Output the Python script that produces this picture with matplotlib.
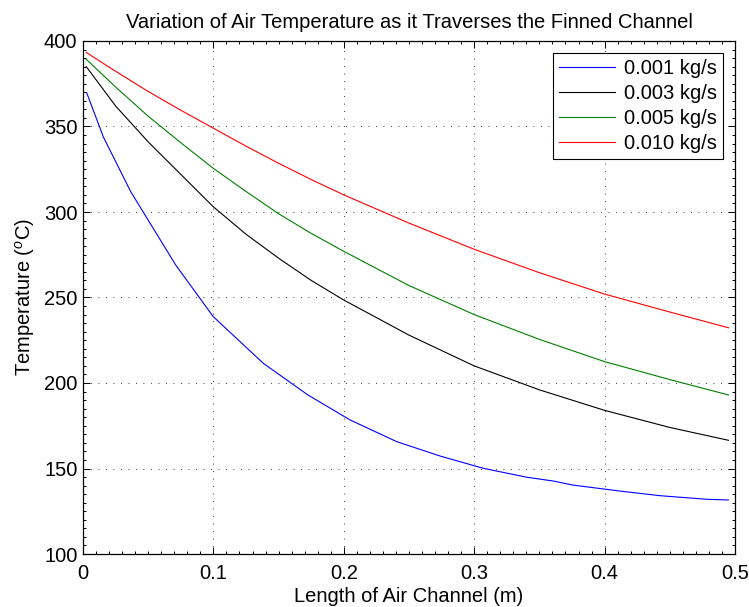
import matplotlib
matplotlib.use("Agg")
import matplotlib.pyplot as plt
from matplotlib.ticker import AutoMinorLocator

plt.rcParams['font.family'] = ['Liberation Sans', 'DejaVu Sans']
plt.rcParams['mathtext.fontset'] = 'custom'
plt.rcParams['mathtext.rm'] = 'Liberation Sans'
plt.rcParams['mathtext.it'] = 'Liberation Sans:italic'

# channel position (m) for the smooth curves
x_len = [0.0025, 0.025, 0.05, 0.075, 0.1, 0.125, 0.15, 0.175, 0.2,
         0.25, 0.3, 0.35, 0.4, 0.45, 0.495]
t_003 = [385, 362, 341, 322, 303, 287, 273, 260, 248.5,
         228, 210, 196, 184, 174, 166.5]
t_005 = [389.3, 373.1, 356, 340.5, 325.5, 312, 299, 287.5, 277,
         257, 240, 225.5, 212.5, 202, 193]
t_010 = [393.3, 382.3, 370.5, 359.5, 349, 338.5, 328.5, 319, 310,
         293.5, 278.2, 264.5, 252, 241.5, 232.3]

# the 0.001 kg/s run is coarser
x_001 = [0.0028, 0.0156, 0.0366, 0.0711, 0.0999, 0.1383, 0.1725, 0.2048, 0.2406,
         0.2738, 0.307, 0.3403, 0.3604, 0.3758, 0.4118, 0.4425, 0.4783, 0.4949]
t_001 = [369.8, 343.9, 311.9, 269, 238.8, 211.5, 193, 178.4, 165.7,
         157.3, 150.1, 144.9, 142.7, 140.3, 136.8, 134.1, 132.0, 131.6]

labels = ['0.001 kg/s', '0.003 kg/s', '0.005 kg/s', '0.010 kg/s']

fs = 14.5

fig = plt.figure(figsize=(7.49, 6.07), dpi=100)
ax = fig.add_axes([83 / 749, 53 / 607, 652 / 749, 513 / 607])

ax.plot(x_001, t_001, color='b', lw=0.8, label=labels[0])
ax.plot(x_len, t_003, color='k', lw=0.8, label=labels[1])
ax.plot(x_len, t_005, color=(0, 0.5, 0), lw=0.8, label=labels[2])
ax.plot(x_len, t_010, color='r', lw=0.8, label=labels[3])

ax.set_xlim(0, 0.5)
ax.set_ylim(100, 400)
ax.set_xticks([0, 0.1, 0.2, 0.3, 0.4, 0.5])
ax.set_xticklabels(['0', '0.1', '0.2', '0.3', '0.4', '0.5'])
ax.set_yticks([100, 150, 200, 250, 300, 350, 400])
ax.xaxis.set_minor_locator(AutoMinorLocator(10))
ax.yaxis.set_minor_locator(AutoMinorLocator(10))
ax.tick_params(which='both', direction='in', top=True, right=True, labelsize=fs, width=0.7)
ax.tick_params(which='major', length=5)
ax.tick_params(which='minor', length=2)
ax.tick_params(axis='x', pad=7)
ax.tick_params(axis='y', pad=4)
for s in ax.spines.values():
    s.set_linewidth(0.9)

ax.grid(True, which='major', color='k', lw=0.6, linestyle=(0, (1, 8)))

ax.set_title('Variation of Air Temperature as it Traverses the Finned Channel', fontsize=fs, pad=9)
ax.set_xlabel('Length of Air Channel (m)', fontsize=fs, labelpad=3)
ax.set_ylabel('Temperature ($^o$C)', fontsize=fs, labelpad=5)

leg = ax.legend(loc='upper right', fontsize=fs, handlelength=2.8, fancybox=False,
                framealpha=1, edgecolor='k', borderaxespad=0.6,
                labelspacing=0.3, borderpad=0.3, handletextpad=0.43)
leg.get_frame().set_linewidth(0.8)

fig.savefig('out.png', dpi=100)
